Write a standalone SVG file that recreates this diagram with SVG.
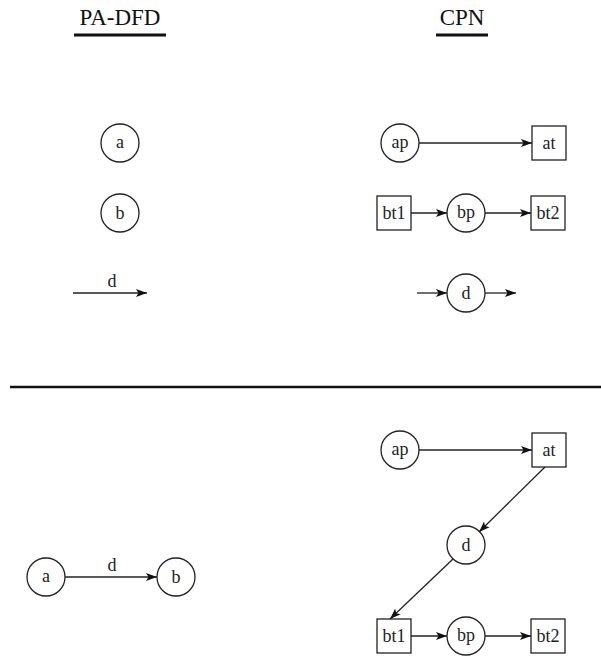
<svg xmlns="http://www.w3.org/2000/svg" width="601" height="656" viewBox="0 0 601 656">
  <style>
    .place { fill: #fff; stroke: #222; stroke-width: 1.3; }
    .trans { fill: #fff; stroke: #222; stroke-width: 1.3; }
    .lbl { font-family: "Liberation Serif", "Times New Roman", serif; font-size: 18px; fill: #222; text-anchor: middle; }
    .head { font-family: "Liberation Serif", "Times New Roman", serif; font-size: 23px; fill: #111; text-anchor: middle; }
    .arc { fill: none; stroke: #222; stroke-width: 1.3; marker-end: url(#arrow); }
    .rule { stroke: #111; stroke-width: 3; }
  </style>
  <defs>
    <marker id="arrow" viewBox="0 0 11 10" refX="11" refY="5" markerWidth="11" markerHeight="10" markerUnits="userSpaceOnUse" orient="auto">
      <path d="M0,1 L11,5 L0,9 L2.5,5 Z" fill="#111"/>
    </marker>
  </defs>

  <!-- headings -->
  <g id="heading-padfd">
    <text class="head" x="120" y="25">PA-DFD</text>
    <line class="rule" x1="74" y1="35" x2="166" y2="35"/>
  </g>
  <g id="heading-cpn">
    <text class="head" x="462" y="25">CPN</text>
    <line class="rule" x1="436" y1="35" x2="488" y2="35"/>
  </g>

  <!-- divider -->
  <line id="divider" x1="10" y1="387" x2="601" y2="387" stroke="#111" stroke-width="2.5"/>

  <!-- upper half: PA-DFD elements -->
  <g id="p-a"><circle class="place" cx="120" cy="143" r="19"/><text class="lbl" x="120" y="148">a</text></g>
  <g id="p-b"><circle class="place" cx="120" cy="213" r="19"/><text class="lbl" x="120" y="219">b</text></g>
  <text id="lbl-d-top" class="lbl" x="112" y="287">d</text>

  <!-- upper half: CPN elements -->
  <g id="c-ap"><circle class="place" cx="400" cy="143" r="19"/><text class="lbl" x="400" y="148">ap</text></g>
  <g id="c-at"><rect class="trans" x="532" y="126" width="34" height="34"/><text class="lbl" x="549" y="149">at</text></g>
  <g id="c-bt1"><rect class="trans" x="377" y="196" width="34" height="34"/><text class="lbl" x="394" y="219">bt1</text></g>
  <g id="c-bp"><circle class="place" cx="466" cy="213" r="19"/><text class="lbl" x="466" y="218">bp</text></g>
  <g id="c-bt2"><rect class="trans" x="531" y="196" width="34" height="34"/><text class="lbl" x="548" y="219">bt2</text></g>
  <g id="c-d"><circle class="place" cx="466" cy="293" r="19"/><text class="lbl" x="466" y="299">d</text></g>

  <!-- lower half: PA-DFD -->
  <g id="p2-a"><circle class="place" cx="46" cy="577" r="19"/><text class="lbl" x="46" y="582">a</text></g>
  <g id="p2-b"><circle class="place" cx="176" cy="577" r="19"/><text class="lbl" x="176" y="583">b</text></g>
  <text id="lbl-d-bottom" class="lbl" x="112" y="571">d</text>

  <!-- lower half: CPN -->
  <g id="c2-ap"><circle class="place" cx="400" cy="450" r="19"/><text class="lbl" x="400" y="455">ap</text></g>
  <g id="c2-at"><rect class="trans" x="532" y="433" width="34" height="34"/><text class="lbl" x="549" y="456">at</text></g>
  <g id="c2-d"><circle class="place" cx="466" cy="545" r="19"/><text class="lbl" x="466" y="551">d</text></g>
  <g id="c2-bt1"><rect class="trans" x="377" y="619" width="34" height="34"/><text class="lbl" x="394" y="642">bt1</text></g>
  <g id="c2-bp"><circle class="place" cx="466" cy="636" r="19"/><text class="lbl" x="466" y="641">bp</text></g>
  <g id="c2-bt2"><rect class="trans" x="531" y="619" width="34" height="34"/><text class="lbl" x="548" y="642">bt2</text></g>

  <g id="connectors">
    <line class="arc" x1="73" y1="293" x2="147" y2="293"/>
    <line class="arc" x1="419" y1="143" x2="532" y2="143"/>
    <line class="arc" x1="411" y1="213" x2="447" y2="213"/>
    <line class="arc" x1="485" y1="213" x2="531" y2="213"/>
    <line class="arc" x1="417" y1="293" x2="447" y2="293"/>
    <line class="arc" x1="485" y1="293" x2="516" y2="293"/>

    <line class="arc" x1="65" y1="577" x2="157" y2="577"/>
    <line class="arc" x1="419" y1="450" x2="532" y2="450"/>
    <line class="arc" x1="545" y1="467" x2="479" y2="532"/>
    <line class="arc" x1="453" y1="559" x2="390" y2="619"/>
    <line class="arc" x1="411" y1="636" x2="447" y2="636"/>
    <line class="arc" x1="485" y1="636" x2="531" y2="636"/>
  </g>
</svg>
